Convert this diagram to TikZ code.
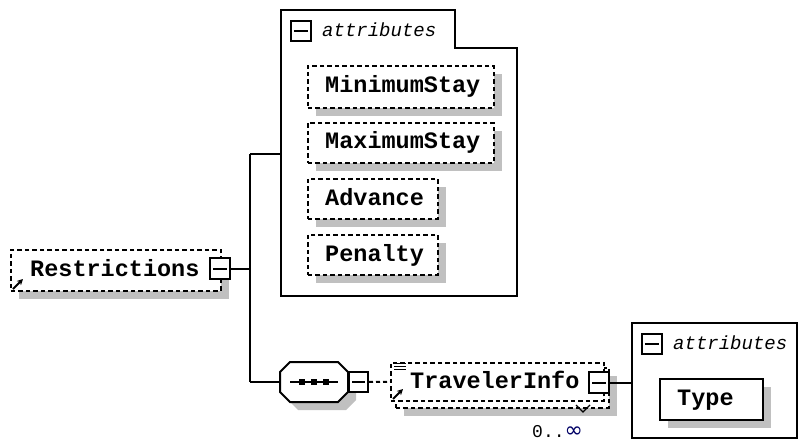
\documentclass[tikz,border=0pt]{standalone}
\usepackage{fontspec}
\setmonofont{Liberation Mono}
\newfontfamily\symfont{DejaVu Sans}
\usetikzlibrary{shadows,arrows.meta}
\definecolor{shgray}{HTML}{C0C0C0}
\begin{document}
\begin{tikzpicture}[x=1pt,y=-1pt,
  sh/.style={drop shadow={shadow xshift=8pt,shadow yshift=-8pt,fill=shgray,opacity=1}},
  dbox/.style={draw,dash pattern=on 4.5pt off 3pt,line width=1.6pt,fill=white,inner sep=0pt,anchor=north west},
  sbox/.style={draw,line width=2pt,fill=white,inner sep=0pt,anchor=north west},
  lbl/.style={font=\ttfamily\bfseries\fontsize{23.5}{23.5}\selectfont,inner sep=0pt,anchor=base west},
  att/.style={font=\ttfamily\itshape\fontsize{19}{19}\selectfont,inner sep=0pt,anchor=base west},
  conn/.style={line width=2pt},
  minusbox/.style={draw,line width=2pt,fill=white,inner sep=0pt,minimum width=20pt,minimum height=20pt,
    path picture={\draw[line width=2pt] ([xshift=3pt]path picture bounding box.west) -- ([xshift=-3pt]path picture bounding box.east);}},
  refarrow/.style={line width=1.8pt,-{Stealth[length=6pt,width=6pt]}},
  octo/.style={line width=2pt},
]
\useasboundingbox (0,0) rectangle (798,441);
\fill[white] (0,0) rectangle (798,441);

% ---- Restrictions
\node[dbox,sh,minimum width=210pt,minimum height=41pt] (restr) at (10,249) {};
\node[lbl] (restrt) at (30,276) {Restrictions};
\draw[refarrow] (13,289) -- (23,279);
\node[minusbox,minimum height=21pt] (rmin) at (220,268.5) {};

% ---- trunk
\coordinate (tmid) at (250,268.5);
\coordinate (ttop) at (250,154);
\coordinate (tbot) at (250,382);
\coordinate (attrL) at (281,154);
\draw[conn] (rmin.east) -- (tmid);
\draw[conn] (ttop) -- (tbot);
\draw[conn] (ttop) -- (attrL);

% ---- attributes group (top)
\draw[line width=2pt] (281,10) -- (455,10) -- (455,48) -- (517,48) -- (517,296) -- (281,296) -- cycle;
\node[minusbox,line width=1.6pt,anchor=north west] (amin1) at (290,20) {};
\node[att] (att1) at (322,37) {attributes};

\node[dbox,sh,minimum width=186pt,minimum height=42pt] (minst) at (307,65) {};
\node[lbl] (minstt) at (325,93) {MinimumStay};
\node[dbox,sh,minimum width=186pt,minimum height=40pt] (maxst) at (307,122) {};
\node[lbl] (maxstt) at (325,149) {MaximumStay};
\node[dbox,sh,minimum width=130pt,minimum height=40pt] (adv) at (307,178) {};
\node[lbl] (advt) at (325,205) {Advance};
\node[dbox,sh,minimum width=130pt,minimum height=40pt] (pen) at (307,234) {};
\node[lbl] (pent) at (325,261) {Penalty};

% ---- sequence compositor (octagon)
\fill[shgray] (288,380) -- (298,370) -- (346,370) -- (356,380) -- (356,400) -- (346,410) -- (298,410) -- (288,400) -- cycle;
\draw[octo,fill=white] (280,372) -- (290,362) -- (338,362) -- (348,372) -- (348,392) -- (338,402) -- (290,402) -- (280,392) -- cycle;
\node[inner sep=0pt,minimum width=68pt,minimum height=40pt] (seq) at (314,382) {};
\draw[line width=2pt] (290,382) -- (338,382);
\foreach \xx in {302,314,326} \fill (\xx-3,379) rectangle (\xx+3,385);
\node[minusbox,minimum width=19pt] (smin) at (358.5,382) {};
\draw[conn] (tbot) -- (seq.west);

% ---- TravelerInfo
\node[dbox,sh,minimum width=213pt,minimum height=40pt] (tiback) at (395,367) {};
\node[dbox,minimum width=213pt,minimum height=38pt] (ti) at (390,362) {};
\node[lbl] (tit) at (410,388) {TravelerInfo};
\draw[line width=1.2pt] (394,363.5) -- (406,363.5) (394,366.5) -- (406,366.5) (394,369.5) -- (406,369.5);
\draw[refarrow] (393,399) -- (403,389);
\node[minusbox,minimum height=21pt] (timin) at (599,382.5) {};
\draw[line width=1.3pt] (576,405) -- (583,412) -- (590,405);
\node[inner sep=0pt,anchor=base west,font=\ttfamily\fontsize{18}{18}\selectfont] (mult) at (532,437) {0..{\symfont\fontsize{22}{22}\selectfont\color{black!60!blue}∞}};
\draw[conn,dash pattern=on 4pt off 3pt] (smin.east) -- (ti.west);

% ---- attributes group (bottom right)
\coordinate (rattrL) at (632,382.5);
\draw[conn] (timin.east) -- (rattrL);
\draw[line width=2pt] (632,323) rectangle (797,438);
\node[minusbox,line width=1.6pt,anchor=north west] (amin2) at (641,333) {};
\node[att] (att2) at (673,349) {attributes};
\node[sbox,sh,minimum width=103pt,minimum height=41pt] (type) at (659,378) {};
\node[lbl] (typet) at (677,405) {Type};
\end{tikzpicture}
\end{document}
